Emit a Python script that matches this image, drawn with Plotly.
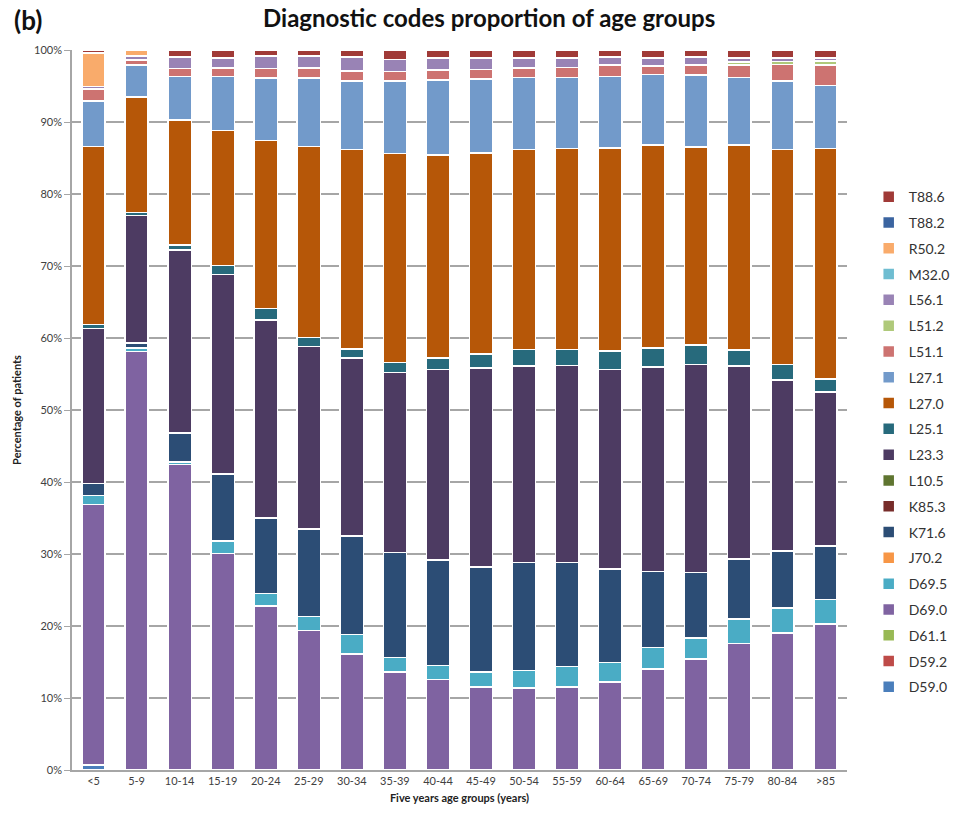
import plotly.graph_objects as go

age_groups = ["<5", "5-9", "10-14", "15-19", "20-24", "25-29", "30-34", "35-39", "40-44",
              "45-49", "50-54", "55-59", "60-64", "65-69", "70-74", "75-79", "80-84", ">85"]

# series listed bottom-to-top of the stack
D59_0 = [0.7] + [0] * 17
D59_2 = [0] * 18
D61_1 = [0] * 18
D69_0 = [36.2, 58.1, 42.4, 30.1, 22.8, 19.4, 16.1, 13.6, 12.6, 11.5, 11.4, 11.5, 12.2, 14.0, 15.4, 17.6, 19.0, 20.3]
D69_5 = [1.2, 0.5, 0.4, 1.7, 1.7, 1.9, 2.7, 2.0, 1.9, 2.1, 2.4, 2.9, 2.7, 3.0, 2.9, 3.4, 3.5, 3.4]
J70_2 = [0] * 18
K71_6 = [1.7, 0.7, 4.0, 9.3, 10.5, 12.2, 13.7, 14.6, 14.7, 14.6, 15.0, 14.4, 13.0, 10.6, 9.1, 8.3, 7.9, 7.4]
K85_3 = [0] * 18
L10_5 = [0] * 18
L23_3 = [21.5, 17.7, 25.4, 27.7, 27.5, 25.3, 24.7, 25.0, 26.4, 27.6, 27.3, 27.4, 27.7, 28.4, 28.9, 26.8, 23.8, 21.4]
L25_1 = [0.6, 0.4, 0.7, 1.3, 1.6, 1.3, 1.3, 1.4, 1.6, 2.0, 2.3, 2.2, 2.6, 2.6, 2.7, 2.2, 2.1, 1.8]
L27_0 = [24.7, 16.1, 17.4, 18.7, 23.3, 26.5, 27.7, 29.0, 28.2, 27.9, 27.8, 27.9, 28.2, 28.2, 27.5, 28.5, 29.9, 32.0]
L27_1 = [6.3, 4.4, 6.0, 7.5, 8.7, 9.5, 9.5, 10.1, 10.4, 10.3, 10.0, 9.9, 9.9, 9.8, 10.0, 9.4, 9.5, 8.8]
L51_1 = [1.7, 0.7, 1.1, 1.2, 1.3, 1.4, 1.4, 1.3, 1.4, 1.3, 1.3, 1.4, 1.6, 1.2, 1.4, 1.7, 2.3, 2.8]
L51_2 = [0] * 15 + [0.4, 0.4, 0.6]
L56_1 = [0.3, 0.6, 1.6, 1.4, 1.8, 1.7, 1.9, 1.7, 1.7, 1.6, 1.4, 1.3, 1.1, 1.1, 1.1, 0.6, 0.5, 0.4]
M32_0 = [0] * 18
R50_2 = [4.7, 0.8] + [0] * 16
T88_2 = [0] * 18
T88_6 = [0.4, 0.0, 1.0, 1.1, 0.8, 0.8, 1.0, 1.3, 1.1, 1.1, 1.1, 1.1, 1.0, 1.1, 1.0, 1.1, 1.1, 1.1]

codes = ["D59.0", "D59.2", "D61.1", "D69.0", "D69.5", "J70.2", "K71.6", "K85.3", "L10.5", "L23.3",
         "L25.1", "L27.0", "L27.1", "L51.1", "L51.2", "L56.1", "M32.0", "R50.2", "T88.2", "T88.6"]
series = [D59_0, D59_2, D61_1, D69_0, D69_5, J70_2, K71_6, K85_3, L10_5, L23_3,
          L25_1, L27_0, L27_1, L51_1, L51_2, L56_1, M32_0, R50_2, T88_2, T88_6]
colors = ["#4A7EBB", "#BE4B48", "#98B954", "#7F63A1", "#4AACC5", "#F79646", "#2C4D75", "#772C2A",
          "#5F7530", "#4D3B62", "#276A7C", "#B65708", "#729ACA", "#CD7371", "#AFC97A", "#9983B5",
          "#6FBDD1", "#F9AB6B", "#3B64A0", "#A03A37"]

FONT = "Lato, 'Open Sans', sans-serif"

fig = go.Figure()
n = len(codes)
for i, (code, vals, col) in enumerate(zip(codes, series, colors)):
    fig.add_trace(go.Bar(
        name=code, x=age_groups, y=vals, legendgroup=code,
        legendrank=1000 + (n - i),
        marker=dict(color=col, line=dict(color="white", width=1.5)),
    ))

pw = 967 - 72 - 94
ph = 817 - 50 - 47

fig.update_layout(
    barmode="stack",
    bargap=0.46,
    width=967, height=817,
    margin=dict(l=72, r=94, t=50, b=47),
    paper_bgcolor="white", plot_bgcolor="white",
    font=dict(family=FONT, size=11, color="#404040"),
    showlegend=True,
    legend=dict(
        x=1.028, xanchor="left", y=0.818, yanchor="top",
        traceorder="grouped", tracegroupgap=4.6,
        font=dict(family=FONT, size=14, color="#333333"),
        itemwidth=30,
    ),
    xaxis=dict(
        showline=True, linecolor="#a6a6a6", linewidth=1.5,
        ticks="", tickfont=dict(size=11, color="#404040"),
        title=dict(text="<b>Five years age groups (years)</b>", font=dict(size=11, color="#222222"), standoff=8),
    ),
    yaxis=dict(
        range=[0, 100], dtick=10, ticksuffix="%",
        showgrid=True, gridcolor="#a6a6a6", gridwidth=1.5,
        showline=True, linecolor="#a6a6a6", linewidth=1.5,
        ticks="outside", ticklen=6, tickcolor="#a6a6a6",
        tickfont=dict(size=11, color="#404040"),
        title=dict(text="<b>Percentage of patients</b>", font=dict(size=11, color="#222222"), standoff=10),
    ),
    annotations=[
        dict(text="<b>Diagnostic codes proportion of age groups</b>",
             x=(503 - 72) / pw, y=(770 - 18) / ph, xanchor="center", yanchor="middle",
             xref="paper", yref="paper", showarrow=False, font=dict(size=24, color="#111111")),
        dict(text="<b>(b)</b>", xref="paper", yref="paper",
             x=(10 - 72) / pw, y=(770 - 20) / ph, xanchor="left", yanchor="middle",
             showarrow=False, font=dict(size=26, color="#111111")),
    ],
)

fig.write_html("out.html")
